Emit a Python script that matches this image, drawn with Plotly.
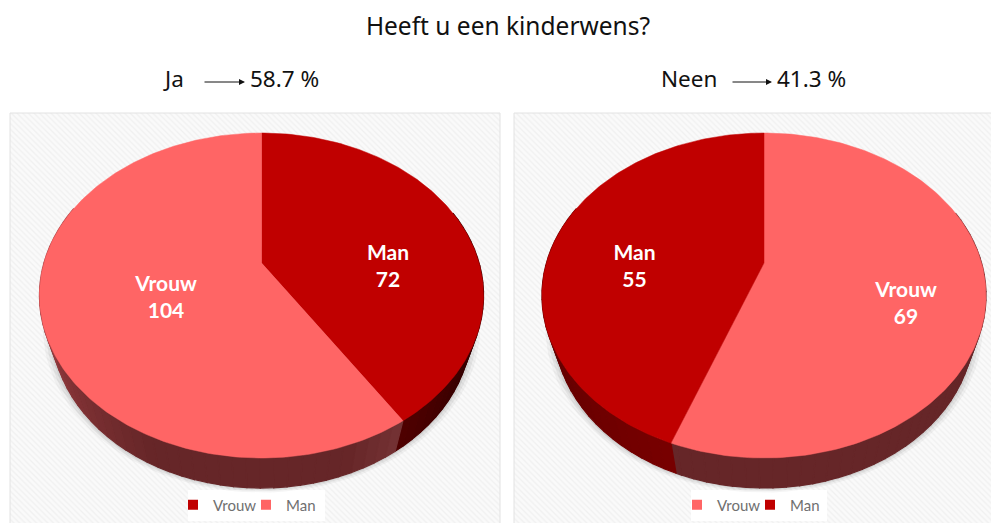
import math
import plotly.graph_objects as go

W, H = 991, 523

TITLE = "Heeft u een kinderwens?"
LEFT_HEAD = ("Ja", "58.7 %")
RIGHT_HEAD = ("Neen", "41.3 %")

left_categories = ["Man", "Vrouw"]
left_values = [72, 104]
left_legend = [("Vrouw", "#C00000"), ("Man", "#FF6565")]

right_categories = ["Vrouw", "Man"]
right_values = [69, 55]
right_legend = [("Vrouw", "#FF6565"), ("Man", "#C00000")]

DARK, LIGHT = "#C00000", "#FF6565"
left_colors = [DARK, LIGHT]
right_colors = [LIGHT, DARK]

# projection of the tilted disc (style constants)
P = 0.2
A = 217.6
B = 156.0
CY = 263.0
DEPTH = 32.6
SHRINK = 0.945
FONT = "Noto Sans"
LABEL_FONT = "Lato"


def proj(cx, theta, low=False):
    u, v = math.sin(theta), math.cos(theta)
    d = 1 + P * v
    s = SHRINK if low else 1.0
    x = cx + s * A * u / d
    y = CY - s * B * v / d + (DEPTH / d if low else 0)
    return x, y


def mix(c1, c2, t):
    t = max(0, min(1, t))
    return "#%02x%02x%02x" % tuple(round(a + (b - a) * t) for a, b in zip(c1, c2))


def wall_color(theta, is_dark, start):
    deg = math.degrees(theta)
    if is_dark:
        if deg < 180:
            return mix((0x35, 0, 0), (0x5c, 0, 0), (deg - 120) / 40)
        return mix((0x78, 0, 0), (0x66, 0, 0), (deg - 200) / 40)
    if deg > 205:
        return mix((0x66, 0x26, 0x28), (0xA8, 0x44, 0x48), (deg - 205) / 65)
    return mix((0x75, 0x32, 0x34), (0x66, 0x26, 0x28), (deg - start) / 14)


fig = go.Figure()


def add(xs, ys, xa, ya, **kw):
    fig.add_trace(go.Scatter(x=xs, y=ys, xaxis=xa, yaxis=ya, mode=kw.pop("mode", "lines"),
                             showlegend=kw.pop("showlegend", False),
                             hoverinfo=kw.pop("hoverinfo", "skip"), **kw))


def draw_panel(x0, x1, xa, ya):
    add([x0, x1, x1, x0, x0], [113, 113, H + 5, H + 5, 113], xa, ya,
        fill="toself", fillcolor="#f6f6f6",
        fillpattern=dict(shape="\\", size=4, solidity=0.3, fgcolor="#f0f0f0", bgcolor="#fafafa", fillmode="replace"),
        line=dict(color="#e2e2e2", width=1))


def draw_pie(cx, cats, vals, cols, xa, ya):
    total = sum(vals)
    # soft drop shadow
    angles = list(range(70, 292, 3))
    for off, alpha in [(9, 0.05), (6, 0.07), (3, 0.09)]:
        pts = [proj(cx, math.radians(t), True) for t in angles]
        xs = [p[0] + off * math.sin(math.radians(t)) for p, t in zip(pts, angles)]
        ys = [p[1] - off * math.cos(math.radians(t)) * 0.5 for p, t in zip(pts, angles)]
        add(xs + [xs[0]], ys + [ys[0]], xa, ya, fill="toself",
            fillcolor=f"rgba(60,60,60,{alpha})", line=dict(width=0))
    # walls
    start = 0.0
    for val, col in zip(vals, cols):
        end = start + val / total * 360
        a = max(start, 70)
        while a < min(end, 292):
            b = min(a + 3, end, 292)
            ta, tb = math.radians(a), math.radians(b)
            pa, pb = proj(cx, ta), proj(cx, tb)
            qa, qb = proj(cx, ta, True), proj(cx, tb, True)
            c = wall_color((ta + tb) / 2, col == DARK, start)
            add([pa[0], pb[0], qb[0], qa[0], pa[0]], [pa[1], pb[1], qb[1], qa[1], pa[1]], xa, ya,
                fill="toself", fillcolor=c, line=dict(color=c, width=1.2))
            a = b
        start = end
    # top face
    start = 0.0
    for cat, val, col in zip(cats, vals, cols):
        end = start + val / total * 360
        n = max(2, int(end - start))
        arc = [proj(cx, math.radians(start + (end - start) * i / n)) for i in range(n + 1)]
        xs = [cx] + [p[0] for p in arc] + [cx]
        ys = [CY] + [p[1] for p in arc] + [CY]
        add(xs, ys, xa, ya, fill="toself", fillcolor=col, line=dict(color=col, width=0.5),
            name=cat, hoverinfo="name")
        start = end


def draw_labels(xs, ys, cats, vals, xa, ya):
    add(xs, ys, xa, ya, mode="text",
        text=[f"{c}<br>{v}" for c, v in zip(cats, vals)], textposition="middle center",
        textfont=dict(family=LABEL_FONT, size=21, color="white", weight="bold"))


draw_panel(10, 500, "x", "y")
draw_panel(514, 995, "x2", "y2")
add([188, 325, 325, 188, 188], [490, 490, 521, 521, 490], "x", "y", fill="toself",
    fillcolor="white", line=dict(width=0))
add([691, 827, 827, 691, 691], [490, 490, 521, 521, 490], "x2", "y2", fill="toself",
    fillcolor="white", line=dict(width=0))
draw_pie(261.5, left_categories, left_values, left_colors, "x", "y")
draw_pie(764.0, right_categories, right_values, right_colors, "x2", "y2")
draw_labels([388, 166], [268.5, 299.5], left_categories, left_values, "x", "y")
draw_labels([906, 634.5], [305.5, 268.5], right_categories, right_values, "x2", "y2")

# legends
for (name, col) in left_legend:
    fig.add_trace(go.Scatter(x=[None], y=[None], xaxis="x", yaxis="y", mode="markers", name=name,
                             marker=dict(symbol="square", size=10, color=col), legend="legend"))
for (name, col) in right_legend:
    fig.add_trace(go.Scatter(x=[None], y=[None], xaxis="x2", yaxis="y2", mode="markers", name=name,
                             marker=dict(symbol="square", size=10, color=col), legend="legend2"))

LEGFONT = dict(family=LABEL_FONT, size=15, color="#707070")
axis = dict(visible=False, fixedrange=True)
LEG = dict(orientation="h", xanchor="left", yanchor="middle", y=1 - 505 / H, font=LEGFONT,
           bgcolor="rgba(0,0,0,0)", itemwidth=30, traceorder="normal",
           entrywidth=28, entrywidthmode="pixels")
fig.update_layout(
    width=W, height=H, autosize=False,
    margin=dict(l=0, r=0, t=0, b=0),
    paper_bgcolor="white", plot_bgcolor="rgba(0,0,0,0)",
    title=dict(text=TITLE, x=508 / W, xanchor="center", y=1 - 26 / H, yanchor="middle",
               font=dict(family=FONT, size=24.5, color="#111111")),
    xaxis=dict(domain=[0, 505 / W], range=[0, 505], **axis),
    yaxis=dict(domain=[0, 1], range=[H, 0], **axis),
    xaxis2=dict(domain=[505 / W, 1], range=[505, W], **axis),
    yaxis2=dict(domain=[0, 1], range=[H, 0], **axis),
    legend=dict(x=173 / W, **LEG),
    legend2=dict(x=677 / W, **LEG),
    showlegend=True,
)

HEAD = dict(family=FONT, size=22.5, color="#111111")


def head(x, y, text, anchor):
    fig.add_annotation(xref="paper", yref="paper", x=x / W, y=1 - y / H, text=text, showarrow=False,
                       xanchor=anchor, yanchor="middle", font=HEAD)


def arrow(x0, x1, y):
    fig.add_annotation(xref="paper", yref="paper", x=x1 / W, y=1 - y / H, ax=x0 - x1, ay=0,
                       text="", showarrow=True, arrowhead=2,
                       arrowsize=1.2, arrowwidth=1, arrowcolor="#111111", standoff=0)


head(161, 78, LEFT_HEAD[0], "left")
arrow(203, 245, 82)
head(248, 78, LEFT_HEAD[1], "left")
head(659, 78, RIGHT_HEAD[0], "left")
arrow(731, 772, 82)
head(775, 78, RIGHT_HEAD[1], "left")

fig.write_html("out.html", config=dict(displayModeBar=False),
               post_script="document.body.style.margin='0';")
